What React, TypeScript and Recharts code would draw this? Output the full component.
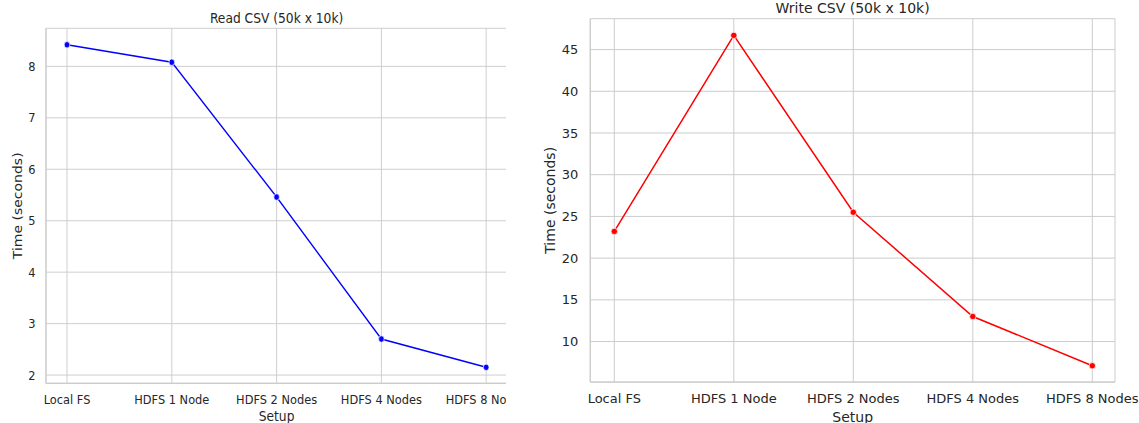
import React from 'react';
import { LineChart, Line, XAxis, YAxis, CartesianGrid } from 'recharts';

const setups = ['Local FS', 'HDFS 1 Node', 'HDFS 2 Nodes', 'HDFS 4 Nodes', 'HDFS 8 Nodes'];
const readTimes = [8.42, 8.08, 5.46, 2.7, 2.15];
const writeTimes = [23.2, 46.7, 25.5, 13.0, 7.1];
const readTicks = [2, 3, 4, 5, 6, 7, 8];
const writeTicks = [10, 15, 20, 25, 30, 35, 40, 45];

const FONT = '"DejaVu Sans", sans-serif';
const TEXT = '#262626';
const GRID = '#cccccc';
const H = 423;

interface PanelProps {
  title: string;
  values: number[];
  color: string;
  ticks: number[];
  domain: [number, number];
  width: number;
  left: number;
  right: number;
  top: number;
  bottom: number;
  padLeft: number;
  padRight: number;
  xTickMargin: number;
}

function Panel({ title, values, color, ticks, domain, width, left, right, top, bottom, padLeft, padRight, xTickMargin }: PanelProps) {
  const data = setups.map((s, i) => ({ setup: s, time: values[i] }));
  const textStyle = { fontSize: 13, fill: TEXT, fontFamily: FONT };
  const labelStyle = { fontSize: 14, fill: TEXT, fontFamily: FONT };

  return (
    <div style={{ position: 'relative', width, height: H }}>
      <div
        style={{
          position: 'absolute',
          left,
          width: width - left - right,
          top: top - 17.6,
          textAlign: 'center',
          fontSize: 14,
          lineHeight: '14px',
          color: TEXT,
          fontFamily: FONT,
          whiteSpace: 'nowrap',
        }}
      >
        {title}
      </div>
      <LineChart width={width} height={H} data={data} margin={{ top, right, bottom: 0, left: 0 }}>
        <CartesianGrid stroke={GRID} strokeWidth={1} />
        <XAxis
          dataKey="setup"
          interval={0}
          padding={{ left: padLeft, right: padRight }}
          height={H - bottom}
          tickSize={0}
          tickMargin={xTickMargin}
          axisLine={{ stroke: GRID, strokeWidth: 1.25 }}
          tick={textStyle}
          label={{ value: 'Setup', position: 'insideBottom', offset: 1.5, ...labelStyle, style: labelStyle }}
        />
        <XAxis
          xAxisId="top"
          orientation="top"
          dataKey="setup"
          height={0}
          tick={false}
          tickLine={false}
          axisLine={{ stroke: GRID, strokeWidth: 1.25 }}
        />
        <YAxis
          type="number"
          domain={domain}
          ticks={ticks}
          allowDataOverflow
          width={left}
          tickSize={0}
          tickMargin={12}
          axisLine={{ stroke: GRID, strokeWidth: 1.25 }}
          tick={textStyle}
          label={{
            value: 'Time (seconds)',
            angle: -90,
            position: 'insideLeft',
            offset: 20,
            ...labelStyle,
            style: { ...labelStyle, textAnchor: 'middle' },
          }}
        />
        <YAxis
          yAxisId="right"
          orientation="right"
          type="number"
          domain={domain}
          width={0}
          tick={false}
          tickLine={false}
          axisLine={{ stroke: GRID, strokeWidth: 1.25 }}
        />
        <Line
          type="linear"
          dataKey="time"
          stroke={color}
          strokeWidth={1.5}
          dot={{ r: 3.2, fill: color, stroke: '#ffffff', strokeWidth: 0.75 }}
          activeDot={false}
          isAnimationActive={false}
        />
      </LineChart>
    </div>
  );
}

export default function App() {
  const squeeze = 0.876;
  return (
    <div style={{ position: 'absolute', left: 0, top: 0, width: 1139, height: H, overflow: 'hidden', background: '#ffffff' }}>
      {/* left panel is horizontally squeezed and clipped on the right, as in the source image */}
      <div style={{ position: 'absolute', left: 0, top: 0, width: 506, height: H, overflow: 'hidden' }}>
        <div style={{ transform: `scaleX(${squeeze})`, transformOrigin: '0 0', width: 600 }}>
          <Panel
            title="Read CSV (50k x 10k)"
            values={readTimes}
            color="#0000ff"
            ticks={readTicks}
            domain={[1.84, 8.74]}
            width={600}
            left={52.5}
            right={21}
            top={28.3}
            bottom={383.3}
            padLeft={24}
            padRight={24}
            xTickMargin={11}
          />
        </div>
      </div>
      <div style={{ position: 'absolute', left: 530, top: 0 }}>
        <Panel
          title="Write CSV (50k x 10k)"
          values={writeTimes}
          color="#ff0000"
          ticks={writeTicks}
          domain={[5.15, 48.7]}
          width={609}
          left={60.3}
          right={24}
          top={18.7}
          bottom={382}
          padLeft={24}
          padRight={22.7}
          xTickMargin={12}
        />
      </div>
    </div>
  );
}
